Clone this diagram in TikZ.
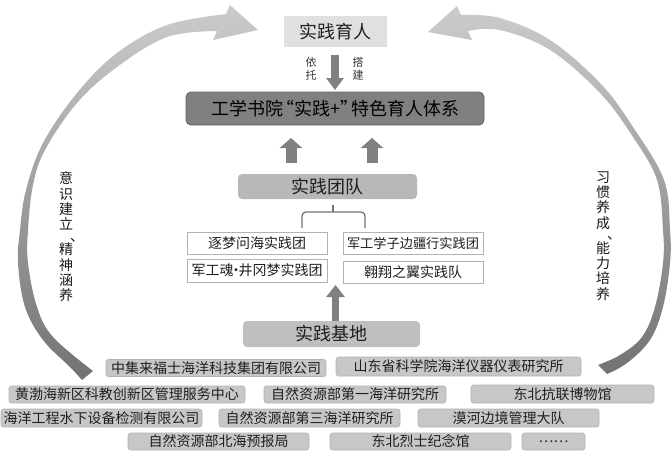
\documentclass[tikz,border=0pt]{standalone}
\usepackage{fontspec}
\setmainfont{Noto Sans CJK SC}
\usetikzlibrary{arrows.meta,calc}
\begin{document}
\begin{tikzpicture}[x=1pt,y=-1pt,
  box/.style={inner sep=0pt, outer sep=0pt, text=black!88},
  bigbox/.style={box, rounded corners=4pt, font=\fontsize{18}{18}\selectfont},
  teambox/.style={box, draw=black!30, line width=0.8pt, fill=white, minimum width=140pt, font=\fontsize{14}{14}\selectfont},
  basebox/.style={box, rounded corners=2.5pt, fill=black!22, draw=black!30, line width=0.6pt, font=\fontsize{14}{14}\selectfont},
  vtext/.style={inner sep=0pt, align=center, text=black!90, font=\fontsize{14}{15.4}\selectfont},
  smalltext/.style={inner sep=0pt, align=center, text=black!80, font=\fontsize{11}{12.5}\selectfont},
  downarrow/.style={draw=black!50, line width=8pt, -{Triangle[length=12pt 0 0, width=17pt 0 0]}},
  uparrow/.style={draw=black!50, line width=11pt, -{Triangle[length=10pt 0 0, width=22pt 0 0]}},
  basearrow/.style={draw=black!50, line width=7pt, -{Triangle[length=12pt 0 0, width=18pt 0 0]}},
  arcfill/.style={top color=black!20, bottom color=black!55}
]
\useasboundingbox (0,0) rectangle (672,453);

% big curved arrows
\shade[arcfill]
 plot[smooth, tension=0.6] coordinates {(82,380) (70,367) (43,340) (25,307) (18,263) (20,230) (26,190) (43,143) (77,93) (117,53) (167,25) (226,14)}
 -- (230,5) -- (258,30) -- (213,40) -- (217,31)
 -- plot[smooth, tension=0.6] coordinates {(217,31) (167,37) (117,67) (77,103) (45,150) (33,185) (28,230) (28,263) (37,307) (53,337) (93,371)}
 -- cycle;
\shade[arcfill]
 plot[smooth, tension=0.6] coordinates {(607,374) (627,363) (650,340) (663,307) (670,263) (670,230) (664,180) (633,127) (600,83) (550,40) (500,18) (461,15)}
 -- (457,6) -- (428,32) -- (472,40) -- (468,31)
 -- plot[smooth, tension=0.6] coordinates {(468,31) (500,30) (550,50) (600,93) (633,137) (657,180) (663,230) (663,263) (655,307) (642,337) (620,355) (598,365)}
 -- cycle;

% main nodes
\node[bigbox, rounded corners=0pt, fill=black!12, minimum width=103pt, minimum height=31pt] (jsyr) at (335,31.5) {实践育人};
\node[bigbox, rounded corners=5pt, fill=black!50, draw=black!62, line width=0.8pt, text=black, minimum width=298pt, minimum height=33pt] (main) at (335,108.5) {工学书院\kern-7pt“实践+”\kern-7pt特色育人体系};
\node[bigbox, fill=black!28, minimum width=179pt, minimum height=25pt] (team) at (327.5,186.5) {实践团队};
\node[bigbox, fill=black!25, minimum width=177pt, minimum height=26pt] (jd) at (331.5,334) {实践基地};

\node[smalltext] (yt) at (311,69) {依\\托};
\node[smalltext] (dj) at (358,69) {搭\\建};

% teams
\node[teambox, minimum height=22pt] (t1) at (257,243) {逐梦问海实践团};
\node[teambox, minimum height=22pt, font=\fontsize{13.2}{14}\selectfont] (t2) at (413,243) {军工学子边疆行实践团};
\node[teambox, minimum height=23pt] (t3) at (257,270.5) {军工魂\kern-4.5pt·\kern-4.5pt井冈梦实践团};
\node[teambox, minimum height=22pt] (t4) at (413,272) {翱翔之翼实践队};

% bases
\node[basebox, minimum width=220pt, minimum height=17pt] (b1) at (216,368) {中集来福士海洋科技集团有限公司};
\node[basebox, minimum width=245pt, minimum height=19pt] (b2) at (458.5,366.5) {山东省科学院海洋仪器仪表研究所};
\node[basebox, minimum width=236pt, minimum height=17pt] (b3) at (127,394.5) {黄渤海新区科教创新区管理服务中心};
\node[basebox, minimum width=182pt, minimum height=17pt] (b4) at (355,394.5) {自然资源部第一海洋研究所};
\node[basebox, minimum width=183pt, minimum height=18pt] (b5) at (562.5,394) {东北抗联博物馆};
\node[basebox, minimum width=201pt, minimum height=18pt] (b6) at (101.5,418) {海洋工程水下设备检测有限公司};
\node[basebox, minimum width=181pt, minimum height=18pt] (b7) at (309.5,418) {自然资源部第三海洋研究所};
\node[basebox, minimum width=181pt, minimum height=18pt] (b8) at (508.5,418) {漠河边境管理大队};
\node[basebox, minimum width=181pt, minimum height=17pt] (b9) at (218.5,441.5) {自然资源部北海预报局};
\node[basebox, minimum width=181pt, minimum height=17pt] (b10) at (420.5,441.5) {东北烈士纪念馆};
\node[basebox, minimum width=63pt, minimum height=17pt] (b11) at (553.5,441.5) {……};

% side texts
\node[vtext] (lt) at (66,237) {意\\识\\建\\立\\[-4pt]\hbox to 0pt{\kern4pt 、\hss}\\[-2pt]精\\神\\涵\\养};
\node[vtext] (rt) at (603,236) {习\\惯\\养\\成\\[-4pt]\hbox to 0pt{\kern4pt 、\hss}\\[-2pt]能\\力\\培\\养};

% arrows
\draw[downarrow, shorten <=8pt, shorten >=2pt] (jsyr.south) -- (main.north);
\coordinate (u1) at ($(main.south)+(-44,0)$);
\coordinate (u2) at ($(main.south)+(37,0)$);
\draw[uparrow, shorten <=11pt, shorten >=13pt] (team.north -| u1) -- (u1);
\draw[uparrow, shorten <=11pt, shorten >=13pt] (team.north -| u2) -- (u2);
\coordinate (gap) at (335.5,285);
\draw[basearrow, shorten <=0.5pt] (jd.north -| gap) -- (gap);

% brace
\coordinate (br) at (333,205);
\draw[black!55, line width=1.3pt, rounded corners=4pt] (302,228) -- (302,212) -- (365,212) -- (365,228);
\draw[black!55, line width=1.3pt] (br) -- (333,212);
\end{tikzpicture}
\end{document}
